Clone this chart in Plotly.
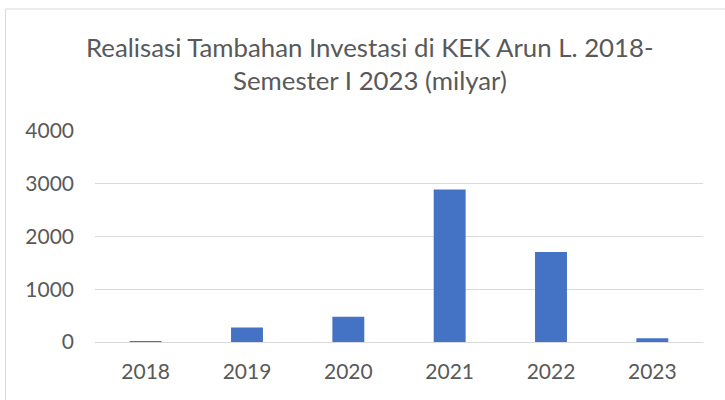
import plotly.graph_objects as go

years = ["2018", "2019", "2020", "2021", "2022", "2023"]
investasi = [15, 275, 477, 2893, 1704, 70]
y_ticks = [0, 1000, 2000, 3000, 4000]
title_line1 = "Realisasi Tambahan Investasi di KEK Arun L. 2018-"
title_line2 = "Semester I 2023 (milyar)"

W, H = 725, 400
L, R, T, B = 95, 22, 131, 58
pw, ph = W - L - R, H - T - B

def px_x(x):
    return (x - L) / pw

def px_y(y):
    return (H - B - y) / ph

TEXT = "#595959"
FONT = "Lato"

fig = go.Figure(go.Bar(
    x=years, y=investasi,
    marker=dict(color="#4472C4", line=dict(width=0)),
    hoverinfo="x+y",
))

fig.update_layout(
    template="none",
    width=W, height=H,
    margin=dict(l=L, r=R, t=T, b=B, autoexpand=False),
    paper_bgcolor="white", plot_bgcolor="white",
    bargap=0.685,
    showlegend=False,
    font=dict(family=FONT, color=TEXT),
    xaxis=dict(
        type="category", showgrid=False, showline=False, ticks="",
        automargin=False,
        tickfont=dict(size=21, color=TEXT, family=FONT),
        ticklabelstandoff=15,
    ),
    yaxis=dict(
        range=[0, 4000], tickvals=y_ticks, showgrid=True, gridcolor="#D9D9D9",
        gridwidth=1, zeroline=True, zerolinecolor="#D9D9D9", zerolinewidth=1,
        showline=False, ticks="", automargin=False,
        tickfont=dict(size=21, color=TEXT, family=FONT),
        ticklabelstandoff=20,
    ),
    annotations=[
        dict(text=title_line1, xref="paper", yref="paper",
             x=px_x(370), y=px_y(46.5), xanchor="center", yanchor="middle",
             showarrow=False, font=dict(size=25.8, color=TEXT, family=FONT)),
        dict(text=title_line2, xref="paper", yref="paper",
             x=px_x(370), y=px_y(80.5), xanchor="center", yanchor="middle",
             showarrow=False, font=dict(size=25.8, color=TEXT, family=FONT)),
    ],
    shapes=[
        dict(type="rect", xref="paper", yref="paper",
             x0=px_x(5.5), x1=px_x(740), y0=px_y(420), y1=px_y(9),
             line=dict(color="#D9D9D9", width=1), fillcolor="rgba(0,0,0,0)",
             layer="below"),
    ],
)

fig.write_html(
    "out.html",
    config={"displayModeBar": False},
    post_script="document.body.style.margin='0';document.body.style.overflow='hidden';",
)
